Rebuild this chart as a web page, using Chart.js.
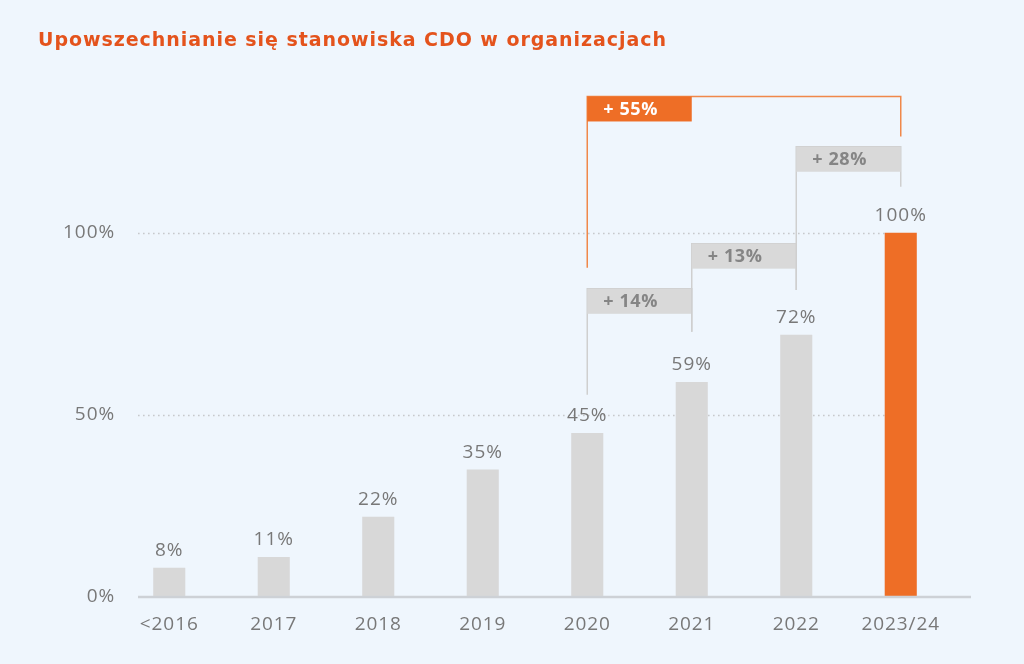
<!DOCTYPE html>
<html>
<head>
<meta charset="utf-8">
<script src="https://cdn.jsdelivr.net/npm/chart.js@4/dist/chart.umd.min.js"></script>
<style>
html,body{margin:0;padding:0;background:#eff6fd;}
#wrap{width:1024px;height:664px;position:relative;}
</style>
</head>
<body>
<div id="wrap"><canvas id="c" width="1024" height="664"></canvas></div>
<script>
const titleText = 'Upowszechnianie się stanowiska CDO w organizacjach';
const categories = ['<2016','2017','2018','2019','2020','2021','2022','2023/24'];
const values = [8,11,22,35,45,59,72,100];
const valueLabels = ['8%','11%','22%','35%','45%','59%','72%','100%'];
const highlighted = [false,false,false,false,false,false,false,true];
const yTickValues = [0,50,100];
const yTickLabels = ['0%','50%','100%'];
const yMax = 140;

// change brackets (from category index -> to category index)
const bracketFrom = [4,5,6,4];
const bracketTo = [5,6,7,7];
const bracketLabels = ['+ 14%','+ 13%','+ 28%','+ 55%'];
const bracketTop = [84.6,97,123.6,137.4];
const bracketLeftEnd = [55.5,72.8,84.3,90.4];
const bracketRightEnd = [72.8,84.3,112.6,126.4];
const bracketHighlighted = [false,false,false,true];

const FONT = "'Open Sans', 'Noto Sans', sans-serif";
const ORANGE = '#ee6e26';
const GRAY_BAR = '#d8d8d8';
const TEXT_GRAY = '#787878';

const decor = {
  id: 'decor',
  beforeDraw(chart) {
    chart.ctx.letterSpacing = '0.9px';
  },
  beforeDatasetsDraw(chart) {
    const ctx = chart.ctx, x = chart.scales.x, y = chart.scales.y, a = chart.chartArea;
    const meta = chart.getDatasetMeta(0);
    const last = meta.data[meta.data.length - 1];
    const gx0 = a.left + 21, gx1 = last.x - last.width / 2;
    ctx.save();
    ctx.strokeStyle = '#c6c9cc';
    ctx.lineWidth = 1.6;
    ctx.setLineDash([1.6, 3.4]);
    yTickValues.forEach(v => {
      if (v === 0) return;
      const py = Math.round(y.getPixelForValue(v)) + 0.5;
      ctx.beginPath(); ctx.moveTo(gx0, py); ctx.lineTo(gx1, py); ctx.stroke();
    });
    ctx.restore();
  },
  afterDatasetsDraw(chart) {
    const ctx = chart.ctx, x = chart.scales.x, y = chart.scales.y, a = chart.chartArea;
    ctx.save();
    // baseline
    ctx.strokeStyle = '#cdd1d6';
    ctx.lineWidth = 2.5;
    ctx.beginPath(); ctx.moveTo(a.left + 21, a.bottom); ctx.lineTo(a.right + 18, a.bottom); ctx.stroke();
    // value labels
    const meta = chart.getDatasetMeta(0);
    ctx.fillStyle = TEXT_GRAY;
    ctx.font = "19px " + FONT;
    ctx.letterSpacing = '1px';
    ctx.textAlign = 'center';
    ctx.textBaseline = 'middle';
    meta.data.forEach((bar, i) => {
      ctx.fillText(valueLabels[i], bar.x, bar.y - 17);
    });
    // brackets
    const step = x.getPixelForValue(1) - x.getPixelForValue(0);
    bracketLabels.forEach((lab, i) => {
      const hl = bracketHighlighted[i];
      const lx = x.getPixelForValue(bracketFrom[i]);
      const rx = x.getPixelForValue(bracketTo[i]);
      const ty = y.getPixelForValue(bracketTop[i]);
      const bh = 25;
      ctx.strokeStyle = hl ? '#f0884a' : '#cfcfcf';
      ctx.lineWidth = 1.5;
      ctx.setLineDash([]);
      ctx.beginPath();
      ctx.moveTo(lx, y.getPixelForValue(bracketLeftEnd[i]));
      ctx.lineTo(lx, ty);
      ctx.lineTo(rx, ty);
      ctx.lineTo(rx, y.getPixelForValue(bracketRightEnd[i]));
      ctx.stroke();
      ctx.fillStyle = hl ? ORANGE : '#d9d9d9';
      ctx.fillRect(lx, ty, step, bh);
      ctx.fillStyle = hl ? '#ffffff' : '#858585';
      ctx.font = "bold 18px " + FONT;
      ctx.letterSpacing = '0.6px';
      ctx.textAlign = 'left';
      ctx.textBaseline = 'middle';
      ctx.fillText(lab, lx + 16, ty + bh / 2 + 1);
    });
    // title
    ctx.fillStyle = '#e4531c';
    ctx.font = "bold 19px 'DejaVu Sans', sans-serif";
    ctx.letterSpacing = '0.95px';
    ctx.textAlign = 'left';
    ctx.textBaseline = 'middle';
    ctx.fillText(titleText, 38, 41);
    ctx.restore();
  }
};

new Chart(document.getElementById('c'), {
  type: 'bar',
  data: {
    labels: categories,
    datasets: [{
      data: values,
      backgroundColor: highlighted.map(h => h ? ORANGE : GRAY_BAR),
      borderWidth: 0,
      categoryPercentage: 1,
      barPercentage: 0.307
    }]
  },
  options: {
    responsive: false,
    animation: false,
    layout: { padding: { top: 87, right: 71, left: 0, bottom: 0 } },
    plugins: { legend: { display: false }, tooltip: { enabled: false } },
    scales: {
      x: {
        offset: true,
        grid: { display: false, drawTicks: false },
        border: { display: false },
        ticks: { color: TEXT_GRAY, font: { family: FONT, size: 19 }, padding: 16 },
        afterFit: s => { s.height = 67; }
      },
      y: {
        min: 0, max: yMax,
        grid: { display: false, drawTicks: false },
        border: { display: false },
        afterBuildTicks: s => { s.ticks = yTickValues.map(v => ({ value: v })); },
        afterFit: s => { s.width = 117; },
        ticks: {
          color: TEXT_GRAY, font: { family: FONT, size: 19 }, padding: 2,
          callback: (v) => yTickLabels[yTickValues.indexOf(v)]
        }
      }
    }
  },
  plugins: [decor]
});
</script>
</body>
</html>
